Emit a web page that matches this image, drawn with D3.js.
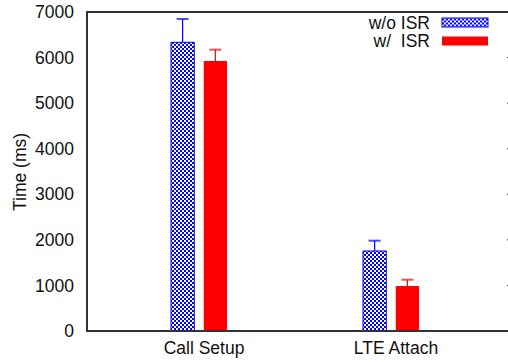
<!DOCTYPE html>
<html>
<head>
<meta charset="utf-8">
<script src="https://cdn.jsdelivr.net/npm/d3@7"></script>
<style>
	body { margin: 0; background: #fff; }
	svg { display: block; font-family: "Liberation Sans", Arial, sans-serif; }
</style>
</head>
<body>
<div id="chart"></div>
<script>
// chart data
var categories = ["Call Setup", "LTE Attach"];
var series = ["w/o ISR", "w/  ISR"];
var seriesColors = ["#0000ff", "#ff0000"];
var means = [[6335, 5925], [1755, 987]];   // [category][series]
var errors = [[512, 248], [227, 139]];     // upper error span
var yTicks = [0, 1000, 2000, 3000, 4000, 5000, 6000, 7000];

var width = 508, height = 362;
var plot = {left: 87, top: 12, right: 513, bottom: 331};
var fontSize = 17.5;

var svg = d3.select("#chart").append("svg")
	.attr("width", width)
	.attr("height", height);

// checkerboard fill for the first series
var defs = svg.append("defs");
var pat = defs.append("pattern")
	.attr("id", "check")
	.attr("patternUnits", "userSpaceOnUse")
	.attr("width", 4)
	.attr("height", 4);
pat.append("rect").attr("width", 4).attr("height", 4).attr("fill", "#0000ff");
pat.append("rect").attr("x", 0).attr("y", 0).attr("width", 2).attr("height", 2).attr("fill", "#fff");
pat.append("rect").attr("x", 2).attr("y", 2).attr("width", 2).attr("height", 2).attr("fill", "#fff");

var y = d3.scaleLinear()
	.domain([0, 7000])
	.range([plot.bottom, plot.top]);

// one band per category, sub-band per series
var x = d3.scaleBand()
	.domain(categories)
	.range([108, 492])
	.padding(0);
var xs = d3.scaleBand()
	.domain(series)
	.range([63, 119])
	.paddingInner(0.29);

function fillFor(i) {
	return i === 0 ? "url(#check)" : seriesColors[i];
}

// bars
categories.forEach(function (c, ci) {
	var g = svg.append("g").attr("transform", "translate(" + x(c) + ",0)");
	series.forEach(function (s, si) {
		var x0 = xs(s), bw = xs.bandwidth(), cx = x0 + bw / 2;
		var v = means[ci][si], top = v + errors[ci][si];
		// error bar
		g.append("line")
			.attr("x1", cx).attr("x2", cx)
			.attr("y1", y(v)).attr("y2", y(top))
			.attr("stroke", seriesColors[si])
			.attr("stroke-width", 1.2);
		g.append("line")
			.attr("x1", cx - 6).attr("x2", cx + 6)
			.attr("y1", y(top)).attr("y2", y(top))
			.attr("stroke", seriesColors[si])
			.attr("stroke-opacity", 0.7)
			.attr("stroke-width", 2);
		g.append("rect")
			.attr("x", x0)
			.attr("y", y(v))
			.attr("width", bw)
			.attr("height", y(0) - y(v))
			.attr("fill", fillFor(si))
			.attr("stroke", si === 0 ? "#0000ee" : "none")
			.attr("stroke-width", 1);
	});
});

// mirror ticks on the right edge
svg.append("g").selectAll("line")
	.data(yTicks.slice(1, -1))
	.enter().append("line")
	.attr("x1", plot.right - 6).attr("x2", plot.right)
	.attr("y1", function (d) { return y(d); })
	.attr("y2", function (d) { return y(d); })
	.attr("stroke", "#333")
	.attr("stroke-width", 1);

// frame (right side lies outside the window)
svg.append("path")
	.attr("d", "M" + plot.right + "," + plot.top + "H" + plot.left + "V" + plot.bottom + "H" + plot.right)
	.attr("fill", "none")
	.attr("stroke", "#333")
	.attr("stroke-width", 2);

// y tick labels
svg.append("g").selectAll("text")
	.data(yTicks)
	.enter().append("text")
	.attr("x", 74)
	.attr("y", function (d) { return y(d); })
	.attr("dy", "0.35em")
	.attr("text-anchor", "end")
	.attr("font-size", fontSize)
	.attr("fill", "#111")
	.text(function (d) { return d; });

// x labels
svg.append("g").selectAll("text")
	.data(categories)
	.enter().append("text")
	.attr("x", function (d) { return x(d) + x.bandwidth() / 2; })
	.attr("y", 348)
	.attr("dy", "0.35em")
	.attr("text-anchor", "middle")
	.attr("font-size", fontSize)
	.attr("fill", "#111")
	.text(function (d) { return d; });

// y axis title
svg.append("text")
	.attr("transform", "translate(20,172) rotate(-90)")
	.attr("dy", "0.35em")
	.attr("text-anchor", "middle")
	.attr("font-size", fontSize)
	.attr("fill", "#111")
	.text("Time (ms)");

// legend
var legend = svg.append("g").selectAll("g")
	.data(series)
	.enter().append("g")
	.attr("transform", function (d, i) { return "translate(0," + (22.5 + i * 18.5) + ")"; });
legend.append("text")
	.attr("x", 430)
	.attr("dy", "0.35em")
	.attr("text-anchor", "end")
	.attr("font-size", fontSize)
	.attr("fill", "#111")
	.style("white-space", "pre")
	.attr("xml:space", "preserve")
	.text(function (d) { return d; });
legend.append("rect")
	.attr("x", 442)
	.attr("y", -4.5)
	.attr("width", 46)
	.attr("height", 9)
	.attr("fill", function (d, i) { return fillFor(i); })
	.attr("stroke", function (d, i) { return i === 0 ? "#0000ee" : "none"; });
</script>
</body>
</html>
